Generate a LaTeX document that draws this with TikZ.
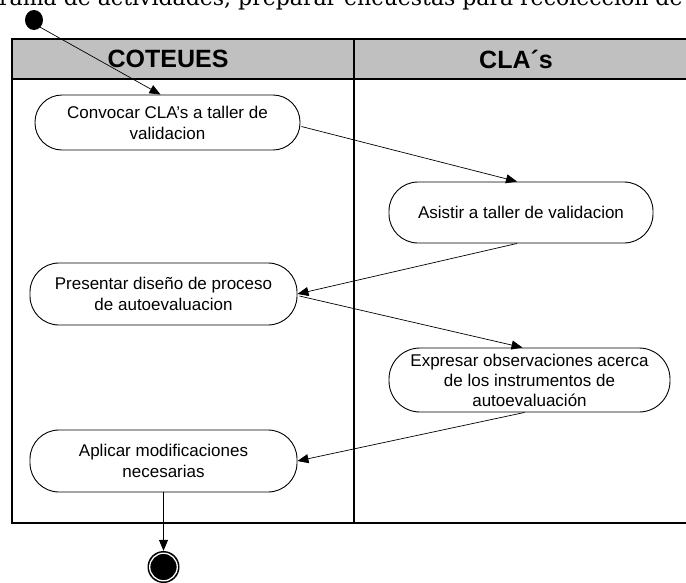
\documentclass[tikz,border=0pt]{standalone}
\usepackage{fontspec}
\setmainfont{Liberation Sans}
\newfontfamily\topserif{DejaVu Serif}
\usetikzlibrary{arrows.meta,calc}
\definecolor{hdrgray}{HTML}{C0C0C0}
\begin{document}
\begin{tikzpicture}[x=1pt,y=-1pt,
  act/.style={draw, line width=0.9pt, rounded corners=29pt, align=center,
    font=\fontsize{17}{21}\selectfont, inner sep=0pt},
  lanebox/.style={line width=1.4pt},
  flow/.style={-{Triangle[length=11pt,width=9pt]}, line width=0.7pt},
  hdrtext/.style={font=\fontsize{25}{30}\selectfont\bfseries}]
\useasboundingbox (0,0) rectangle (686,582);
\clip (0,0) rectangle (686,582);
% clipped top text
\node[anchor=base west, inner sep=0pt, font=\topserif\fontsize{22}{26}\selectfont] (toptext) at (-1,5)
  {rama de actividades, preparar encuestas para recolección de};
% swimlanes
\fill[hdrgray] (12,39) rectangle (700,79);
\draw[lanebox] (700,39) -- (12,39) -- (12,523) -- (700,523);
\draw[lanebox] (12,79) -- (700,79);
\draw[lanebox] (354,39) -- (354,523);
\node[hdrtext] (h1) at (168,59) {COTEUES};
\node[hdrtext] (h2) at (516,59) {CLA´s};
% start / end
\fill (34,20) ellipse [x radius=9, y radius=10];
\coordinate (start) at (38,26);
\node[circle, fill=black, minimum size=32pt, inner sep=0pt] (endo) at (163.5,567) {};
\draw[white, line width=1.3pt] (endo.center) circle [radius=13.8];
% activities
\node[act, rounded corners=27pt, minimum width=265pt, minimum height=55pt] (n1) at (167.5,122.5) {Convocar CLA’s a taller de\\validacion};
\node[act, minimum width=264pt, minimum height=61pt] (n2) at (521,212.5) {Asistir a taller de validacion};
\node[act, minimum width=267pt, minimum height=62pt] (n3) at (163.5,294) {Presentar diseño de proceso\\de autoevaluacion};
\node[act, rounded corners=31pt, minimum width=281pt, minimum height=64pt, font=\fontsize{17}{20}\selectfont] (n4) at (529.5,380) {Expresar observaciones acerca\\de los instrumentos de\\autoevaluación};
\node[act, minimum width=267pt, minimum height=62pt] (n5) at (163.5,461) {Aplicar modificaciones\\necesarias};
% connectors
\draw[flow] (start) -- ($(n1.north)+(-7,0)$);
\draw[flow] ($(n1.east)+(1,4)$) -- ($(n2.north)+(-4,0)$);
\draw[flow] ($(n2.south)+(-4,0)$) -- (n3.east);
\draw[flow] ($(n3.east)+(2,2)$) -- ($(n4.north)+(-7,0)$);
\draw[flow] ($(n4.south)+(-5,0)$) -- (n5.east);
\draw[flow] (n5.south) -- (endo.north);
\end{tikzpicture}
\end{document}
